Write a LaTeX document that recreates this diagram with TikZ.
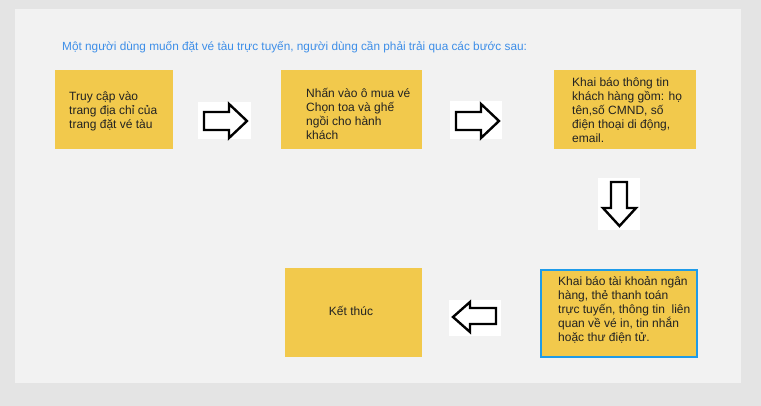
\documentclass[tikz,border=0pt]{standalone}
\usepackage{fontspec}
\setmainfont{Liberation Sans}
\definecolor{outerbg}{HTML}{E4E4E4}
\definecolor{panel}{HTML}{F2F2F2}
\definecolor{boxy}{HTML}{F2C94C}
\definecolor{titleblue}{HTML}{3D8EE8}
\definecolor{bordblue}{HTML}{1E9BE9}
\definecolor{txtc}{HTML}{222222}
\begin{document}
\begin{tikzpicture}[x=1pt,y=-1pt,
  box/.style={fill=boxy, draw=none, anchor=north west, inner sep=0pt},
  txt/.style={anchor=west, align=left, inner sep=0pt, text=txtc, font=\fontsize{12}{14}\selectfont},
  arrbg/.style={fill=white, draw=none},
  blockarrow/.style={draw=black, fill=white, line width=2.4pt, line join=miter}]
\useasboundingbox (0,0) rectangle (761,406);
\fill[outerbg] (0,0) rectangle (761,406);
\fill[panel] (15,9) rectangle (741,383);
\node[anchor=base west, inner sep=0pt, text=titleblue, font=\fontsize{11.8}{14}\selectfont] (title) at (62,51) {Một người dùng muốn đặt vé tàu trực tuyến, người dùng cần phải trải qua các bước sau:};
% boxes
\node[box, minimum width=118, minimum height=79] (b1) at (55,70) {};
\node[box, minimum width=141, minimum height=79] (b2) at (281,70) {};
\node[box, minimum width=142, minimum height=79] (b3) at (554,70) {};
\node[box, minimum width=156, minimum height=87, draw=bordblue, line width=2pt] (b4) at (540,269) {};
\node[box, minimum width=137, minimum height=89] (b5) at (285,268) {};
% texts
\node[txt] (t1) at (69,111) {Truy cập vào\\trang địa chỉ của\\trang đặt vé tàu};
\node[txt] (t2) at (306,114) {Nhấn vào ô mua vé\\Chọn toa và ghế\\ngồi cho hành\\khách};
\node[txt] (t3) at (572,110) {Khai báo thông tin\\khách hàng gồm: họ\\tên,số CMND, số\\điện thoại di động,\\email.};
\node[txt] (t4) at (558,310) {Khai báo tài khoản ngân\\hàng, thẻ thanh toán\\trực tuyến, thông tin\ \ liên\\quan về vé in, tin nhắn\\hoặc thư điện tử.};
\node[txt, anchor=center] (t5) at (351,311) {Kết thúc};
% arrow 1
\fill[arrbg] (198,102) rectangle (251,139);
\draw[blockarrow] (204,112) -- (229,112) -- (229,104) -- (247,121) -- (229,138) -- (229,130) -- (204,130) -- cycle;
% arrow 2
\fill[arrbg] (450,101) rectangle (502,139);
\draw[blockarrow] (456,112) -- (481,112) -- (481,104) -- (499,121) -- (481,138) -- (481,130) -- (456,130) -- cycle;
% arrow 3 (down)
\fill[arrbg] (598,178) rectangle (640,230);
\draw[blockarrow] (611,182) -- (627,182) -- (627,208) -- (636,208) -- (619.5,226) -- (603,208) -- (611,208) -- cycle;
% arrow 4 (left)
\fill[arrbg] (449,300) rectangle (501,336);
\draw[blockarrow] (496,308) -- (470,308) -- (470,302) -- (453,317) -- (470,332) -- (470,324) -- (496,324) -- cycle;
\end{tikzpicture}
\end{document}
